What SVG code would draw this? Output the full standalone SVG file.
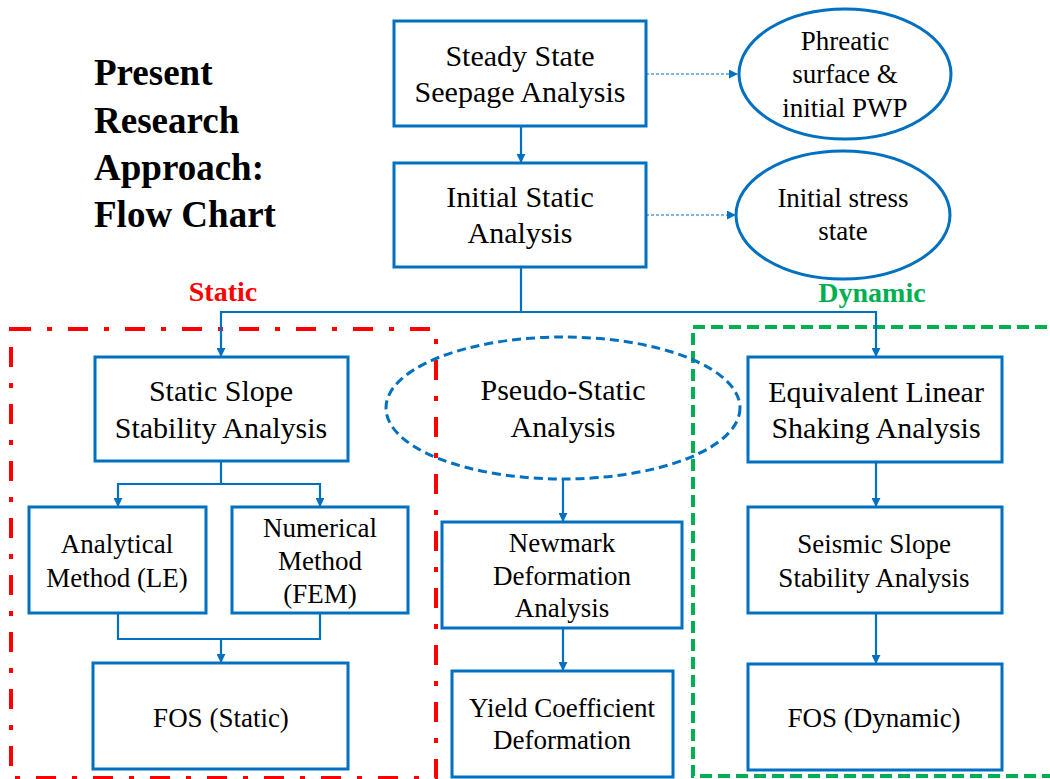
<svg xmlns="http://www.w3.org/2000/svg" width="1050" height="779" viewBox="0 0 1050 779">
<defs>
<style>
.box{fill:#fff;stroke:#0070C0;stroke-width:3}
.ell{fill:#fff;stroke:#0070C0;stroke-width:3}
.t{font-family:'Liberation Serif','Times New Roman',Times,'DejaVu Serif',serif;fill:#000;text-anchor:middle}
.t30{font-size:30px}
.t27{font-size:27px}
.b{font-family:'Liberation Serif','Times New Roman',Times,'DejaVu Serif',serif;font-weight:bold}
.con{fill:none;stroke:#0070C0;stroke-width:2.2}
.dot{fill:none;stroke:#0070C0;stroke-width:1.2;stroke-dasharray:3 2}
</style>
<marker id="ah" viewBox="0 0 10 10" refX="9" refY="5" markerWidth="9" markerHeight="9" markerUnits="userSpaceOnUse" orient="auto">
<path d="M0,0 L10,5 L0,10 Z" fill="#0070C0"/>
</marker>
</defs>
<rect width="1050" height="779" fill="#fff"/>

<g id="title" class="b" font-size="37" fill="#000">
<text x="94" y="85">Present</text>
<text x="94" y="133">Research</text>
<text x="94" y="180">Approach:</text>
<text x="94" y="227">Flow Chart</text>
</g>

<g id="static-region">
<rect x="11" y="329" width="425" height="449" fill="none" stroke="#FF0000" stroke-width="4" stroke-dasharray="20 16 5 16"/>
<text class="b" x="223" y="301" font-size="28" fill="#FF0000" text-anchor="middle">Static</text>
</g>
<g id="dynamic-region">
<rect x="693" y="327" width="370" height="449" fill="none" stroke="#00B050" stroke-width="4" stroke-dasharray="12 6"/>
<text class="b" x="872" y="302" font-size="28" fill="#00B050" text-anchor="middle">Dynamic</text>
</g>

<g id="connectors">
<line class="con" x1="521" y1="126" x2="521" y2="162" marker-end="url(#ah)"/>
<path class="con" d="M521,267 V312 H221 V356" marker-end="url(#ah)"/>
<path class="con" d="M521,312 H876 V356" marker-end="url(#ah)"/>
<line class="dot" x1="646" y1="74" x2="737" y2="74" marker-end="url(#ah)"/>
<line class="dot" x1="646" y1="215" x2="735" y2="215" marker-end="url(#ah)"/>
<path class="con" d="M221,461 V484 H118 V506" marker-end="url(#ah)"/>
<path class="con" d="M221,484 H320 V506" marker-end="url(#ah)"/>
<path class="con" d="M118,613 V639 H320 V613"/>
<line class="con" x1="221" y1="639" x2="221" y2="662" marker-end="url(#ah)"/>
<line class="con" x1="563" y1="479" x2="563" y2="521" marker-end="url(#ah)"/>
<line class="con" x1="563" y1="628" x2="563" y2="670" marker-end="url(#ah)"/>
<line class="con" x1="876" y1="462" x2="876" y2="506" marker-end="url(#ah)"/>
<line class="con" x1="876" y1="613" x2="876" y2="663" marker-end="url(#ah)"/>
</g>

<g id="seepage">
<rect class="box" x="394" y="21" width="252" height="105"/>
<text class="t t30" x="520" y="66">Steady State</text>
<text class="t t30" x="520" y="102">Seepage Analysis</text>
</g>
<g id="initial-static">
<rect class="box" x="394" y="163" width="252" height="104"/>
<text class="t t30" x="520" y="207">Initial Static</text>
<text class="t t30" x="520" y="243">Analysis</text>
</g>
<g id="phreatic">
<ellipse class="ell" cx="845" cy="74" rx="106" ry="65"/>
<text class="t t27" x="845" y="50">Phreatic</text>
<text class="t t27" x="845" y="83">surface &amp;</text>
<text class="t t27" x="845" y="117">initial PWP</text>
</g>
<g id="initial-stress">
<ellipse class="ell" cx="843" cy="215" rx="107" ry="64"/>
<text class="t t27" x="843" y="207">Initial stress</text>
<text class="t t27" x="843" y="240">state</text>
</g>

<g id="static-slope">
<rect class="box" x="95" y="357" width="253" height="104"/>
<text class="t t30" x="221" y="401">Static Slope</text>
<text class="t t30" x="221" y="438">Stability Analysis</text>
</g>
<g id="analytical">
<rect class="box" x="29" y="507" width="177" height="106"/>
<text class="t t27" x="117" y="553">Analytical</text>
<text class="t t27" x="117" y="587">Method (LE)</text>
</g>
<g id="numerical">
<rect class="box" x="232" y="507" width="176" height="106"/>
<text class="t t27" x="320" y="537">Numerical</text>
<text class="t t27" x="320" y="570">Method</text>
<text class="t t27" x="320" y="603">(FEM)</text>
</g>
<g id="fos-static">
<rect class="box" x="93" y="663" width="255" height="106"/>
<text class="t t27" x="221" y="727">FOS (Static)</text>
</g>

<g id="pseudo-static">
<ellipse cx="563" cy="408" rx="177" ry="71" fill="none" stroke="#0070C0" stroke-width="3" stroke-dasharray="9 5"/>
<text class="t t30" x="563" y="400">Pseudo-Static</text>
<text class="t t30" x="563" y="437">Analysis</text>
</g>
<g id="newmark">
<rect class="box" x="442" y="522" width="240" height="106"/>
<text class="t t27" x="562" y="552">Newmark</text>
<text class="t t27" x="562" y="585">Deformation</text>
<text class="t t27" x="562" y="617">Analysis</text>
</g>
<g id="yield">
<rect class="box" x="452" y="671" width="221" height="106"/>
<text class="t t27" x="562" y="717">Yield Coefficient</text>
<text class="t t27" x="562" y="749">Deformation</text>
</g>

<g id="equivalent-linear">
<rect class="box" x="748" y="357" width="254" height="105"/>
<text class="t t30" x="876" y="402">Equivalent Linear</text>
<text class="t t30" x="876" y="438">Shaking Analysis</text>
</g>
<g id="seismic-slope">
<rect class="box" x="748" y="507" width="254" height="106"/>
<text class="t t27" x="874" y="553">Seismic Slope</text>
<text class="t t27" x="874" y="587">Stability Analysis</text>
</g>
<g id="fos-dynamic">
<rect class="box" x="748" y="664" width="254" height="106"/>
<text class="t t27" x="874" y="727">FOS (Dynamic)</text>
</g>
</svg>
